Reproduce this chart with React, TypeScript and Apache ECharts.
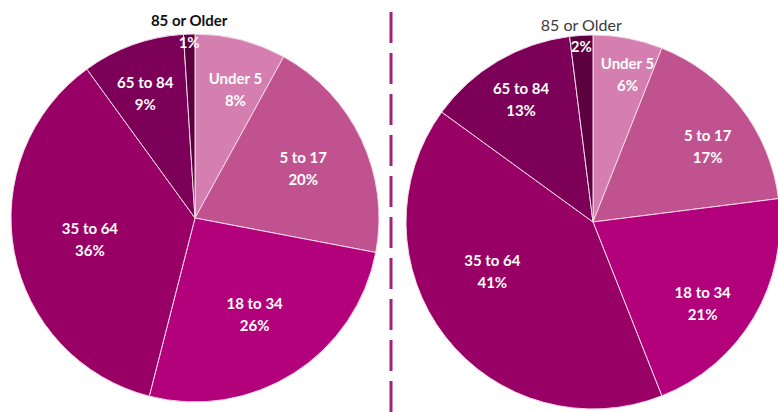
import React, { useEffect, useRef } from "react";
import * as echarts from "echarts";

const categories = ["Under 5", "5 to 17", "18 to 34", "35 to 64", "65 to 84", "85 or Older"];
const leftValues = [8, 20, 26, 36, 9, 1];
const rightValues = [6, 17, 21, 41, 13, 2];
const sliceColors = ["#d47fb0", "#c0528f", "#b3007b", "#990066", "#7c0057", "#5c0040"];

// label placement tweaks (style only): small [dx, dy] nudges per slice label
const leftLabelNudge = [[9, -7], [-6, 4], [-8, -11], [19, -3], [-7, -6], [0, 0]];
const rightLabelNudge = [[8, -9], [3, 11], [-12, 9], [11, -38], [0, -1], [0, 0]];

const LEFT = { cx: 195, cy: 218, r: 184, labelInner: 0.34, topRing: [0.94, 1.06], topColor: "#111111", topWeight: "bold" as const, topSize: 15 };
const RIGHT = { cx: 593, cy: 222, r: 187, labelInner: 0.48, topRing: [0.925, 1.045], topColor: "#3a3a3a", topWeight: "normal" as const, topSize: 16 };

const FONT = "Lato, 'Open Sans', sans-serif";
const transparent = "rgba(0,0,0,0)";

function buildPie(values: number[], g: typeof LEFT, nudges: number[][]) {
  const last = categories.length - 1;
  const main = {
    type: "pie",
    center: [g.cx, g.cy],
    radius: [0, g.r],
    startAngle: 90,
    clockwise: true,
    silent: true,
    label: { show: false },
    labelLine: { show: false },
    itemStyle: { borderColor: "#f4d9e8", borderWidth: 1 },
    data: categories.map((name, i) => ({
      name,
      value: values[i],
      itemStyle: { color: sliceColors[i] },
    })),
  };
  const inner = {
    type: "pie",
    center: [g.cx, g.cy],
    radius: [g.r * g.labelInner, g.r],
    startAngle: 90,
    clockwise: true,
    silent: true,
    labelLine: { show: false },
    itemStyle: { color: transparent, borderWidth: 0 },
    labelLayout: (p: any) => ({
      dx: nudges[p.dataIndex][0],
      dy: nudges[p.dataIndex][1],
      hideOverlap: false,
    }),
    label: {
      show: true,
      position: "inside",
      color: "#ffffff",
      fontFamily: FONT,
      fontWeight: "bold",
      fontSize: 15,
      lineHeight: 22,
      formatter: (p: any) => `${p.name}\n${p.value}%`,
    },
    data: categories.map((name, i) => ({
      name,
      value: values[i],
      label: { show: i !== last },
    })),
  };
  const top = {
    type: "pie",
    center: [g.cx, g.cy],
    radius: [g.r * g.topRing[0], g.r * g.topRing[1]],
    startAngle: 90,
    clockwise: true,
    silent: true,
    labelLine: { show: false },
    itemStyle: { color: transparent, borderWidth: 0 },
    labelLayout: { hideOverlap: false },
    label: {
      show: true,
      position: "inside",
      formatter: (p: any) => `{n|${p.name}}\n{p|${p.value}%}`,
      rich: {
        n: { color: g.topColor, fontFamily: FONT, fontWeight: g.topWeight, fontSize: g.topSize, lineHeight: 22 },
        p: { color: "#ffffff", fontFamily: FONT, fontWeight: "bold", fontSize: 15, lineHeight: 22 },
      },
    },
    data: categories.map((name, i) => ({
      name,
      value: values[i],
      label: { show: i === last },
    })),
  };
  return [main, inner, top];
}

export default function App() {
  const ref = useRef<HTMLDivElement>(null);
  useEffect(() => {
    if (!ref.current) return;
    const chart = echarts.init(ref.current, null, { renderer: "svg" });
    chart.setOption({
      animation: false,
      backgroundColor: "#ffffff",
      series: [...buildPie(leftValues, LEFT, leftLabelNudge), ...buildPie(rightValues, RIGHT, rightLabelNudge)],
      graphic: [
        {
          type: "line",
          silent: true,
          shape: { x1: 391, y1: 12, x2: 391, y2: 412 },
          style: { stroke: "#a3217a", lineWidth: 3, lineDash: [31, 10] },
        },
      ],
    });
    return () => chart.dispose();
  }, []);
  return (
    <div
      ref={ref}
      style={{ position: "absolute", left: 0, top: 0, width: 778, height: 412 }}
    />
  );
}
